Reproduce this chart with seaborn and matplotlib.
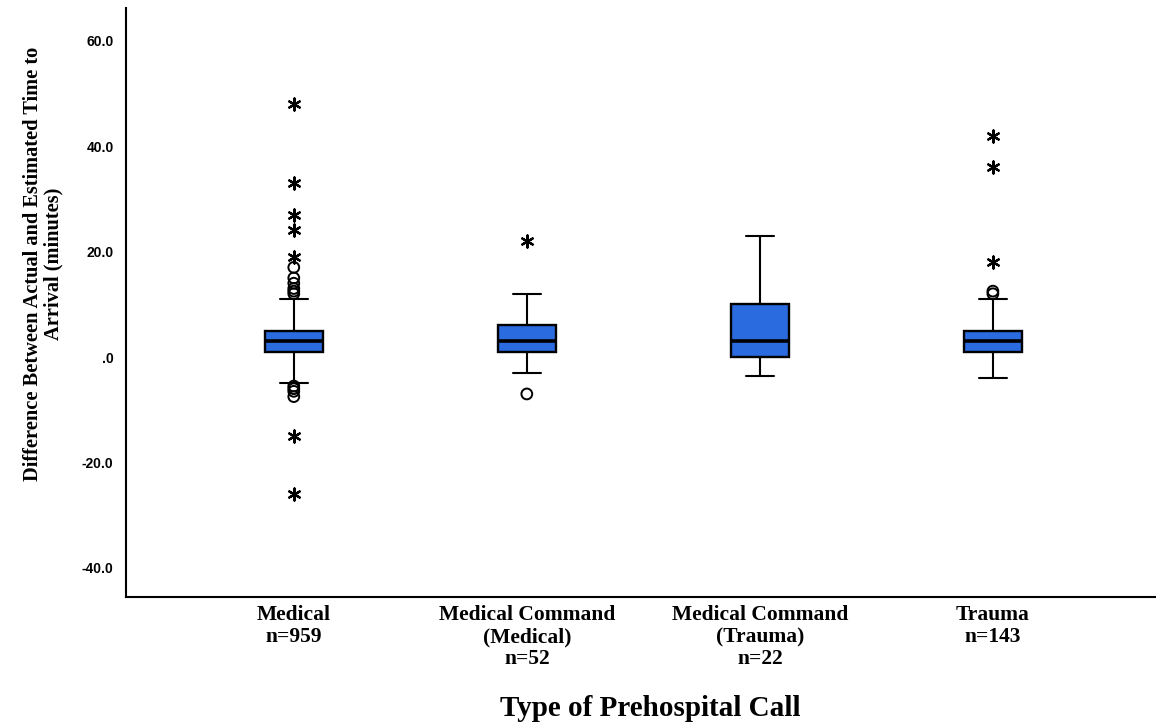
import pandas as pd
import numpy as np
import matplotlib.pyplot as plt
import seaborn as sns

# Categories and box statistics
categories = ["Medical\nn=959", "Medical Command\n(Medical)\nn=52",
              "Medical Command\n(Trauma)\nn=22", "Trauma\nn=143"]
q1 = [1.0, 1.0, 0.0, 1.0]
medians = [3.0, 3.0, 3.0, 3.0]
q3 = [5.0, 6.0, 10.0, 5.0]
whisker_low = [-5.0, -3.0, -3.5, -4.0]
whisker_high = [11.0, 12.0, 23.0, 11.0]

# Outliers (circles) and extreme values (asterisks) per group
circle_outliers = [
    [17.0, 15.0, 14.0, 13.0, 12.5, 12.0, -5.5, -6.0, -6.5, -7.5],
    [-7.0],
    [],
    [12.5, 12.0],
]
star_outliers = [
    [48.0, 33.0, 27.0, 24.0, 19.0, -15.0, -26.0],
    [22.0],
    [],
    [42.0, 36.0, 18.0],
]

yticks = [60, 40, 20, 0, -20, -40]
ytick_labels = ["60.0", "40.0", "20.0", ".0", "-20.0", "-40.0"]

box_color = "#2B6BE0"

sns.set_style("white")
plt.rcParams["text.color"] = "black"
plt.rcParams["xtick.color"] = "black"
plt.rcParams["ytick.color"] = "black"

fig = plt.figure(figsize=(11.56, 7.25), dpi=100)
ax = fig.add_axes([0.109, 0.1766, 0.891, 0.8124])

# Boxes from precomputed stats
stats = []
for i in range(len(categories)):
    stats.append(dict(med=medians[i], q1=q1[i], q3=q3[i],
                      whislo=whisker_low[i], whishi=whisker_high[i], fliers=[]))
ax.bxp(stats, positions=range(len(categories)), widths=0.25, patch_artist=True,
       showfliers=False, capwidths=0.12,
       boxprops=dict(facecolor=box_color, edgecolor="black", linewidth=1.7),
       medianprops=dict(color="black", linewidth=2.6),
       whiskerprops=dict(color="black", linewidth=1.5),
       capprops=dict(color="black", linewidth=1.5))

# Outlier markers
circ_df = pd.DataFrame([(i, v) for i, vals in enumerate(circle_outliers) for v in vals],
                       columns=["pos", "value"])
star_df = pd.DataFrame([(i, v) for i, vals in enumerate(star_outliers) for v in vals],
                       columns=["pos", "value"])
sns.scatterplot(data=circ_df, x="pos", y="value", marker="o", s=60,
                facecolor="none", edgecolor="black", linewidth=1.4, ax=ax, zorder=4)
sns.scatterplot(data=star_df, x="pos", y="value", marker=(6, 2, 0), s=75,
                color="black", linewidth=1.6, ax=ax, zorder=4)

ax.set_xlim(-0.72, 3.70)
ax.set_ylim(-45.5, 66.2)
ax.set_yticks(yticks)
ax.set_yticklabels(ytick_labels, fontfamily="Liberation Sans", fontweight="bold", fontsize=10)
ax.set_xticks(range(len(categories)))
ax.set_xticklabels(categories, fontfamily="Liberation Serif", fontweight="bold",
                   fontsize=15.5, linespacing=1.12)
ax.tick_params(axis="both", length=0)
ax.tick_params(axis="y", pad=9)
ax.tick_params(axis="x", pad=6)
ax.set_xlabel("")
ax.set_ylabel("")

for side in ["top", "right"]:
    ax.spines[side].set_visible(False)
for side in ["left", "bottom"]:
    ax.spines[side].set_color("black")
    ax.spines[side].set_linewidth(1.5)

fig.text(43 / 1156, 1 - 264 / 725,
         "Difference Between Actual and Estimated Time to\nArrival (minutes)",
         rotation=90, ha="center", va="center", multialignment="center",
         fontfamily="Liberation Serif", fontweight="bold", fontsize=14.7, linespacing=1.0)
fig.text(650 / 1156, 1 - 709 / 725, "Type of Prehospital Call",
         ha="center", va="center", fontfamily="Liberation Serif",
         fontweight="bold", fontsize=21)

fig.savefig("out.png", dpi=100)
